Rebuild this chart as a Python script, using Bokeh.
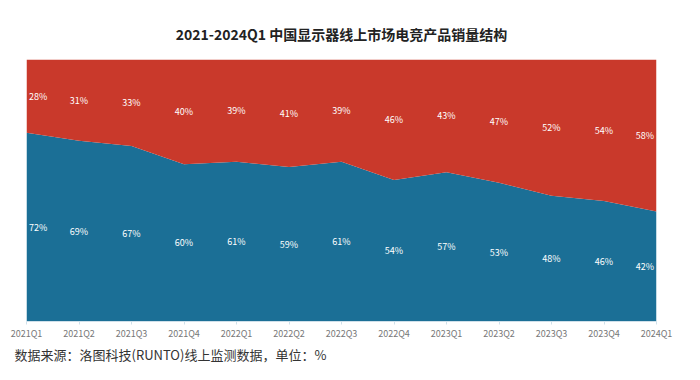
from bokeh.plotting import figure
from bokeh.models import ColumnDataSource, Range1d, FixedTicker, Title
from bokeh.core.properties import value
from bokeh.embed import file_html
from bokeh.resources import INLINE

quarters = ["2021Q1", "2021Q2", "2021Q3", "2021Q4", "2022Q1", "2022Q2", "2022Q3",
            "2022Q4", "2023Q1", "2023Q2", "2023Q3", "2023Q4", "2024Q1"]
blue_share = [72, 69, 67, 60, 61, 59, 61, 54, 57, 53, 48, 46, 42]
red_share = [28, 31, 33, 40, 39, 41, 39, 46, 43, 47, 52, 54, 58]

BLUE = "#1B6F96"
RED = "#C9392B"
FONT = "Noto Sans CJK SC"

xs = list(range(len(quarters)))
src = ColumnDataSource(dict(x=xs, blue=blue_share, red=red_share))

p = figure(width=684, height=364, output_backend="svg", toolbar_location=None,
           x_range=Range1d(0, len(quarters) - 1), y_range=Range1d(0, 100),
           min_border_left=26, min_border_right=28, min_border_top=59, min_border_bottom=10)
p.outline_line_color = None
p.grid.visible = False
p.yaxis.visible = False

p.varea_stack(stackers=["blue", "red"], x="x", color=[BLUE, RED], source=src)

# labels at segment centers
lx = [x + 0.22 if i == 0 else (x - 0.22 if i == len(xs) - 1 else x) for i, x in enumerate(xs)]
lab_blue = ColumnDataSource(dict(x=lx, y=[b / 2 for b in blue_share],
                                 t=[f"{b}%" for b in blue_share]))
lab_red = ColumnDataSource(dict(x=lx, y=[b + r / 2 for b, r in zip(blue_share, red_share)],
                                t=[f"{r}%" for r in red_share]))
for s in (lab_blue, lab_red):
    p.text(x="x", y="y", text="t", source=s, text_color="white", text_font_size="9px",
           text_align="center", text_baseline="middle", text_font=value(FONT))

p.xaxis.ticker = FixedTicker(ticks=xs)
p.xaxis.major_label_overrides = {i: q for i, q in enumerate(quarters)}
p.xaxis.major_label_text_font = FONT
p.xaxis.major_label_text_font_size = "9px"
p.xaxis.major_label_text_color = "#777777"
p.xaxis.axis_line_color = "#cfe0ea"
p.xaxis.major_tick_line_color = "#cfe0ea"
p.xaxis.major_tick_in = 0
p.xaxis.major_tick_out = 3
p.xaxis.minor_tick_line_color = None
p.xaxis.major_label_standoff = 2

p.title.text = "2021-2024Q1 中国显示器线上市场电竞产品销量结构"
p.title.align = "center"
p.title.text_font = FONT
p.title.text_font_size = "14px"
p.title.text_font_style = "bold"
p.title.text_color = "#222222"
p.title.standoff = 31

foot = Title(text="数据来源：洛图科技(RUNTO)线上监测数据，单位：%", align="left",
             text_font=FONT, text_font_size="13px", text_font_style="normal",
             text_color="#333333", offset=-12, standoff=1)
p.add_layout(foot, "below")

open("out.html", "w").write(file_html(p, INLINE))
